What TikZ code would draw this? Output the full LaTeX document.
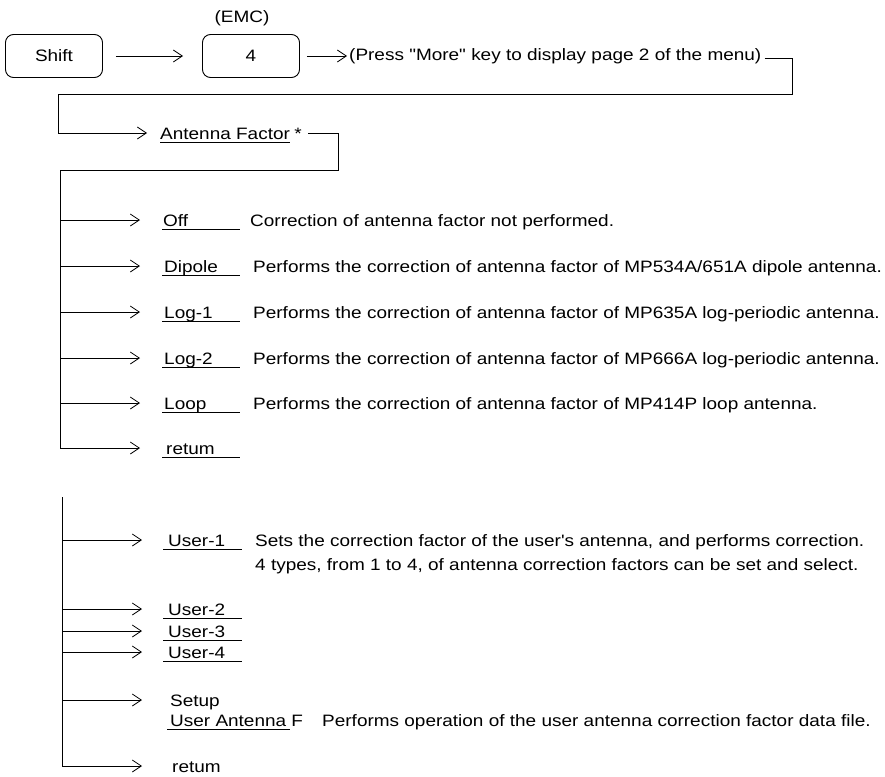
\documentclass[tikz,border=0pt]{standalone}
\usepackage{fontspec}
\setmainfont{Liberation Sans}[Ligatures=TeXOff]
\usetikzlibrary{arrows.meta}
\newcommand{\hs}[1]{\scalebox{1.15}[1]{#1}}
\tikzset{
  every node/.style={font=\fontsize{16.5}{19}\selectfont, inner sep=0pt},
  keybox/.style={draw, rounded corners=8pt, minimum width=97pt, minimum height=43pt, line width=0.9pt},
  conn/.style={line width=0.8pt},
  arr/.style={conn, -{Straight Barb[length=9pt,width=12pt,line width=0.8pt]}},
  lbl/.style={anchor=base west},
  ul/.style={line width=0.8pt}
}
\begin{document}
\begin{tikzpicture}[x=1pt,y=-1pt]
\useasboundingbox (0,0) rectangle (885,776);
% top row
\node[keybox] (shift) at (54,56) {\hs{Shift}};
\node[keybox] (four) at (251,56) {\hs{4}};
\node (emc) at (242,18) {\hs{(EMC)}};
\node[anchor=west] (press) at (349,56) {\hs{(Press "More" key to display page 2 of the menu)}};
\draw[arr] ([xshift=13pt]shift.east) -- ([xshift=-19pt]four.west);
\draw[arr] ([xshift=7pt]four.east) -- ([xshift=-2pt]press.west);
% link to antenna factor
\coordinate (c1) at (792,58);
\coordinate (c2) at (792,94);
\coordinate (c3) at (58,94);
\coordinate (c4) at (58,133);
\node[lbl] (af) at (160,139) {\hs{Antenna Factor}};
\node[lbl] (star) at ([xshift=4pt]af.base east) {\hs{*}};
\draw[ul] ([yshift=-3pt]af.base west) -- ([yshift=-3pt]af.base east);
\draw[conn] ([xshift=3pt]press.east |- c1) -- (c1) -- (c2) -- (c3) -- (c4);
\draw[arr] (c4) -- (147,133);
% first menu
\coordinate (d1) at (308,133);
\coordinate (d2) at (338,133);
\coordinate (d3) at (338,170);
\coordinate (d4) at (60,170);
\coordinate (sp1) at (60,448);
\draw[arr] (d1) -- (d2) -- (d3) -- (d4) -- (sp1) -- (140,448);
\foreach \y/\n in {220/off,266/dip,312/logA,358/logB,403/loop}{
  \coordinate (\n s) at (60,\y);
  \draw[arr] (\n s) -- (140,\y);
  \draw[ul] (162,\y+9) -- (240,\y+9);
}
\draw[ul] (162,457) -- (240,457);
\node[lbl] (off) at (163,226) {\hs{Off}};
\node[lbl] (dip) at (164,272) {\hs{Dipole}};
\node[lbl] (logA) at (164,318) {\hs{Log-1}};
\node[lbl] (logB) at (164,364) {\hs{Log-2}};
\node[lbl] (loop) at (164,409) {\hs{Loop}};
\node[lbl] (ret1) at (166,454) {\hs{retum}};
\node[lbl] (offd) at (250,226) {\hs{Correction of antenna factor not performed.}};
\node[lbl] (dipd) at (253,272) {\hs{Performs the correction of antenna factor of MP534A/651A dipole antenna.}};
\node[lbl] (logAd) at (253,318) {\hs{Performs the correction of antenna factor of MP635A log-periodic antenna.}};
\node[lbl] (logBd) at (253,364) {\hs{Performs the correction of antenna factor of MP666A log-periodic antenna.}};
\node[lbl] (loopd) at (253,409) {\hs{Performs the correction of antenna factor of MP414P loop antenna.}};
% second menu
\coordinate (s2top) at (62,497);
\coordinate (sp2) at (62,766);
\draw[arr] (s2top) -- (sp2) -- (142,766);
\foreach \y/\n in {540/uA,609/uB,631/uC,652/uD,700/setup}{
  \coordinate (\n s) at (62,\y);
  \draw[arr] (\n s) -- (142,\y);
}
\foreach \y in {549,618,640,661}{
  \draw[ul] (163,\y) -- (242,\y);
}
\node[lbl] (uA) at (168,546) {\hs{User-1}};
\node[lbl] (uB) at (168,615) {\hs{User-2}};
\node[lbl] (uC) at (168,637) {\hs{User-3}};
\node[lbl] (uD) at (168,658) {\hs{User-4}};
\node[lbl] (uAd1) at (255,546) {\hs{Sets the correction factor of the user's antenna, and performs correction.}};
\node[lbl] (uAd2) at (255,570) {\hs{4 types, from 1 to 4, of antenna correction factors can be set and select.}};
\node[lbl] (setup) at (170,706) {\hs{Setup}};
\node[lbl] (uaf) at (170,726) {\hs{User Antenna F}};
\draw[ul] (167,729) -- (290,729);
\node[lbl] (uafd) at (322,726) {\hs{Performs operation of the user antenna correction factor data file.}};
\node[lbl] (ret2) at (172,772) {\hs{retum}};
\end{tikzpicture}
\end{document}
